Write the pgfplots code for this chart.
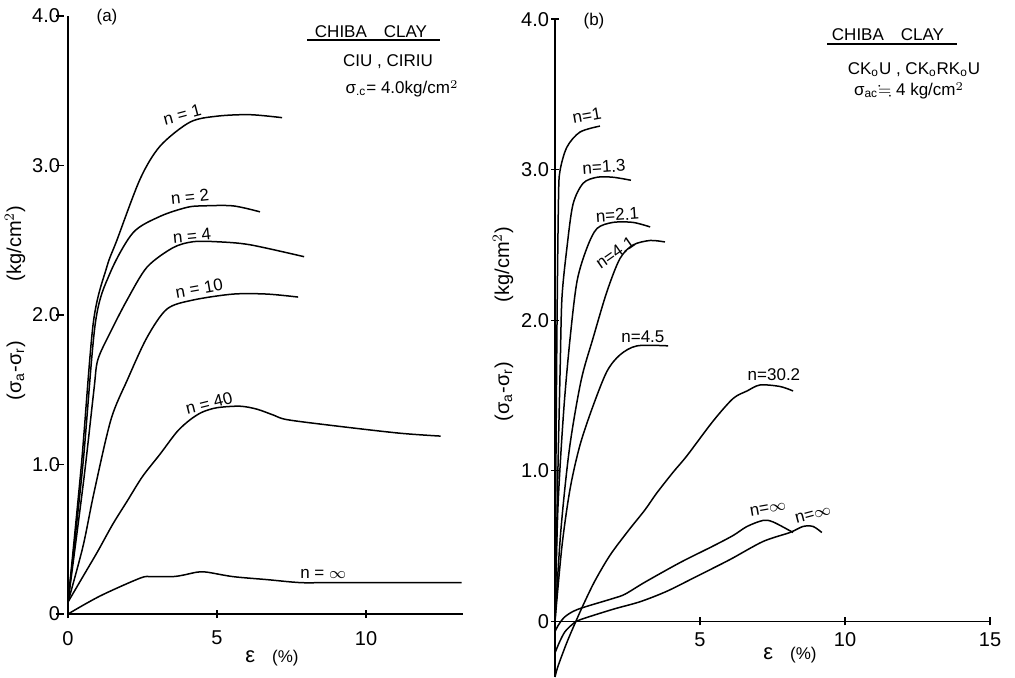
\documentclass[border=0pt]{standalone}
\usepackage{fontspec}
\setmainfont{Liberation Sans}
\usepackage{amssymb}
\usepackage{pgfplots}
\pgfplotsset{compat=1.18}
\begin{document}
\begin{tikzpicture}
\path[use as bounding box] (0pt,0pt) rectangle (507.5pt,338.5pt);
\pgfplotsset{every axis/.append style={scale only axis,
  font=\fontsize{8.5}{10}\selectfont,
  tick label style={font=\fontsize{10}{12}\selectfont},
  tick style={black, line width=0.7pt},
  major tick length=4pt, tick align=inside, clip=false},
  crv/.style={black, solid, line width=0.75pt, smooth, mark=none}}
% ---------------- panel (a)
\begin{axis}[name=a, at={(34pt,31.5pt)}, anchor=south west, width=197.5pt, height=299pt,
  xmin=0, xmax=13.25, ymin=0, ymax=4, axis lines=left,
  axis line style={-, line width=0.7pt},
  x axis line style={-}, y axis line style={-},
  xtick={0,5,10}, xticklabels={0,5,10},
  ytick={0,1,2,3,4}, yticklabels={0,1.0,2.0,3.0,4.0},
  y tick style={xshift=-4pt}, x tick label style={yshift=-3pt},
  y tick label style={xshift=1.5pt}]
% n = 1
\addplot[crv] coordinates {(0,0.08)(0.45,1.0)(0.85,1.95)(1.3,2.32)(1.64,2.5)(2.42,2.91)(3.09,3.13)(4.09,3.29)(5.0,3.33)(6.1,3.34)(7.18,3.32)};
% n = 2
\addplot[crv] coordinates {(0,0.08)(0.5,1.0)(0.92,1.95)(1.41,2.28)(2.18,2.55)(3.09,2.66)(3.99,2.72)(4.53,2.73)(5.54,2.73)(6.44,2.69)};
% n = 4
\addplot[crv] coordinates {(0,0.08)(0.53,0.9)(0.87,1.5)(1.0,1.70)(1.41,1.88)(1.98,2.10)(2.65,2.32)(3.52,2.45)(4.19,2.49)(5.0,2.49)(6.1,2.47)(7.92,2.39)};
% n = 10
\addplot[crv] coordinates {(0,0.08)(0.5,0.45)(0.87,0.81)(1.44,1.30)(2.0,1.57)(2.65,1.85)(3.32,2.04)(4.19,2.10)(5.54,2.14)(6.68,2.14)(7.72,2.12)};
% n = 40
\addplot[crv] coordinates {(0,0.08)(0.5,0.25)(1.0,0.42)(1.5,0.6)(2.0,0.76)(2.5,0.92)(3.09,1.07)(3.66,1.22)(4.1,1.3)(4.5,1.35)(5.0,1.38)(5.77,1.39)(6.34,1.37)(6.9,1.33)(7.35,1.30)(8.9,1.26)(11.1,1.21)(12.5,1.19)};
% n = inf
\addplot[crv] coordinates {(0,0)(1.07,0.12)(2.42,0.24)(2.8,0.25)(3.5,0.25)(3.86,0.26)(4.33,0.28)(4.66,0.28)(5.54,0.25)(6.68,0.23)(7.8,0.21)(8.9,0.21)(13.2,0.21)};
\node[rotate=15] at (axis cs:3.83,3.34) {n = 1};
\node[rotate=6] at (axis cs:4.09,2.79) {n = 2};
\node[rotate=6] at (axis cs:4.16,2.53) {n = 4};
\node[rotate=10] at (axis cs:4.40,2.18) {n = 10};
\node[rotate=14] at (axis cs:4.73,1.41) {n = 40};
\node at (axis cs:8.56,0.27) {n = $\infty$};
\end{axis}
% ---------------- panel (b)
\begin{axis}[name=b, at={(277.5pt,0pt)}, anchor=south west, width=217.5pt, height=328.9pt,
  xmin=0, xmax=15, ymin=-0.37, ymax=4, axis y line=left, axis x line=middle,
  axis line style={-, line width=0.7pt},
  x axis line style={-}, y axis line style={-},
  xtick={5,10,15}, xticklabels={5,10,15},
  ytick={0,1,2,3,4}, yticklabels={0,1.0,2.0,3.0,4.0},
  y tick label style={xshift=2.5pt}]
% n = 1
\addplot[crv] coordinates {(0,0)(0.03,1.0)(0.07,2.0)(0.12,2.8)(0.17,2.99)(0.41,3.15)(0.86,3.25)(1.55,3.29)};
% n = 1.3
\addplot[crv] coordinates {(0,0)(0.1,1.0)(0.18,1.7)(0.24,2.15)(0.41,2.48)(0.62,2.77)(0.97,2.91)(1.45,2.95)(2.0,2.95)(2.62,2.93)};
% n = 2.1
\addplot[crv] coordinates {(0,0)(0.1,0.75)(0.3,1.4)(0.52,1.88)(0.76,2.26)(1.10,2.48)(1.45,2.61)(2.0,2.65)(2.69,2.65)(3.28,2.62)};
% n = 4.1
\addplot[crv] coordinates {(0,0)(0.2,0.6)(0.5,1.15)(0.9,1.6)(1.31,1.88)(1.79,2.19)(2.24,2.41)(2.69,2.5)(3.28,2.53)(3.79,2.52)};
% n = 4.5
\addplot[crv] coordinates {(0,0)(0.24,0.5)(0.52,0.88)(0.86,1.17)(1.31,1.43)(1.79,1.66)(2.24,1.77)(2.83,1.83)(3.9,1.83)};
% n = 30.2
\addplot[crv] coordinates {(0,-0.37)(0.1,-0.3)(0.41,-0.14)(0.72,0.0)(1.0,0.12)(1.38,0.27)(1.9,0.44)(2.52,0.6)(3.1,0.74)(3.5,0.85)(4.07,0.99)(4.55,1.10)(5.45,1.33)(6.14,1.48)(6.62,1.53)(7.07,1.57)(7.76,1.56)(8.21,1.53)};
% n = inf (1)
\addplot[crv] coordinates {(0,-0.07)(0.1,-0.03)(0.34,0.03)(0.79,0.08)(1.97,0.15)(2.41,0.18)(3.1,0.26)(4.31,0.39)(5.45,0.50)(6.14,0.57)(6.62,0.63)(7.17,0.67)(7.52,0.66)(8.21,0.59)};
% n = inf (2)
\addplot[crv] coordinates {(0,-0.21)(0.15,-0.14)(0.34,-0.07)(0.6,-0.02)(0.86,0.01)(2.0,0.08)(2.93,0.13)(3.86,0.2)(4.9,0.3)(6.03,0.41)(7.17,0.53)(8.1,0.59)(8.55,0.63)(8.9,0.63)(9.2,0.59)};
\node[rotate=10] at (axis cs:1.10,3.36) {n=1};
\node[rotate=4] at (axis cs:1.69,3.02) {n=1.3};
\node[rotate=4] at (axis cs:2.15,2.70) {n=2.1};
\node[rotate=35] at (axis cs:2.07,2.45) {n=4.1};
\node at (axis cs:3.03,1.89) {n=4.5};
\node at (axis cs:7.55,1.64) {n=30.2};
\node[rotate=10] at (axis cs:7.34,0.75) {n=$\infty$};
\node[rotate=15] at (axis cs:8.9,0.71) {n=$\infty$};
\end{axis}
% ---------------- texts
\begin{scope}[font=\fontsize{8.5}{10}\selectfont]
\node[rotate=90, font=\fontsize{10}{12}\selectfont] at (7.5pt,187pt) {(σ\textsubscript{a}-σ\textsubscript{r})\hspace{3em}(kg/cm$^2$)};
\node[rotate=90, font=\fontsize{10}{12}\selectfont] at (251.5pt,176.5pt) {(σ\textsubscript{a}-σ\textsubscript{r})\hspace{3em}(kg/cm$^2$)};
\node at (136pt,9.5pt) {{\fontsize{11}{12}\selectfont ε}\hspace{1em}(\%)};
\node at (395pt,11pt) {{\fontsize{11}{12}\selectfont ε}\hspace{1em}(\%)};
\node at (53.5pt,330pt) {(a)};
\node at (297pt,328pt) {(b)};
\node at (185.5pt,322.5pt) {CHIBA\hspace{1em}CLAY};
\draw[line width=0.6pt] (153.5pt,318.5pt) -- (220pt,318.5pt);
\node at (194pt,307.5pt) {CIU , CIRIU};
\node at (201pt,294pt) {σ\textsubscript{.c}= 4.0kg/cm$^2$};
\node at (444pt,321pt) {CHIBA\hspace{1em}CLAY};
\draw[line width=0.6pt] (413.5pt,316.5pt) -- (478.5pt,316.5pt);
\node at (457pt,303.5pt) {CK\textsubscript{o}U , CK\textsubscript{o}RK\textsubscript{o}U};
\node at (454.5pt,293pt) {σ\textsubscript{ac}$\fallingdotseq$ 4 kg/cm$^2$};
\end{scope}
\end{tikzpicture}
\end{document}
